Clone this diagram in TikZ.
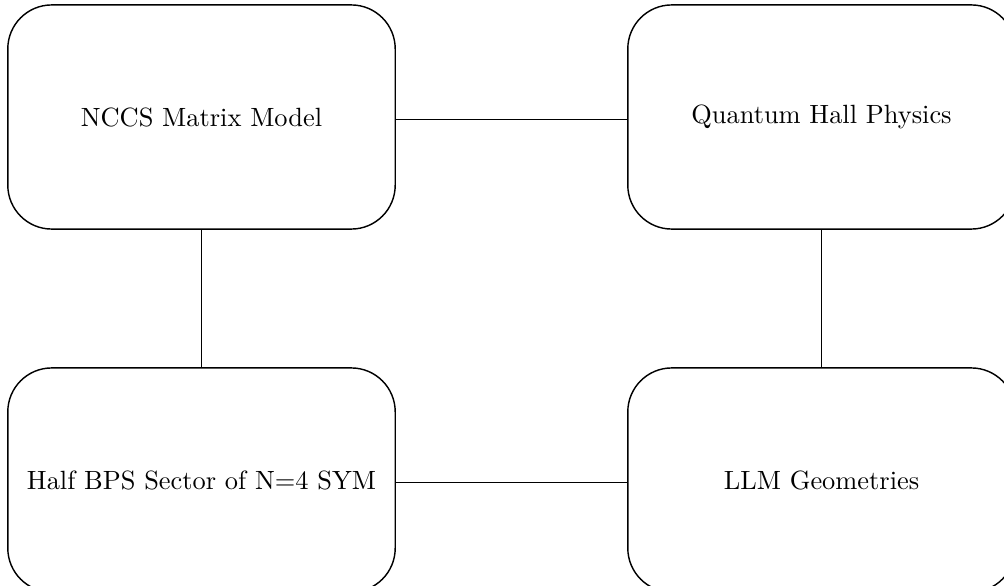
\documentclass[tikz,border=0pt]{standalone}
\begin{document}
\begin{tikzpicture}[x=0.3846pt,y=-0.3846pt,
  box/.style={draw, line width=0.55pt, rounded corners=16.9pt, minimum width=149pt, minimum height=86.2pt, inner sep=0pt, align=center, font=\fontsize{10.15}{12}\selectfont},
  link/.style={draw, line width=0.4pt}]
\useasboundingbox (0,0) rectangle (1004,586);
\node[box] (nccs) at (201.5,117) {NCCS Matrix Model};
\node[box] (qh) at (821.5,117) {Quantum Hall Physics};
\node[box] (bps) at (201.5,480) {Half BPS Sector of N=4 SYM};
\node[box] (llm) at (821.5,480) {LLM Geometries};
\draw[link] ([yshift=-1.1pt]nccs.east) -- ([yshift=-1.1pt]qh.west);
\draw[link] (nccs) -- (bps);
\draw[link] (qh) -- (llm);
\draw[link] ([yshift=-1.1pt]bps.east) -- ([yshift=-1.1pt]llm.west);
\end{tikzpicture}
\end{document}
